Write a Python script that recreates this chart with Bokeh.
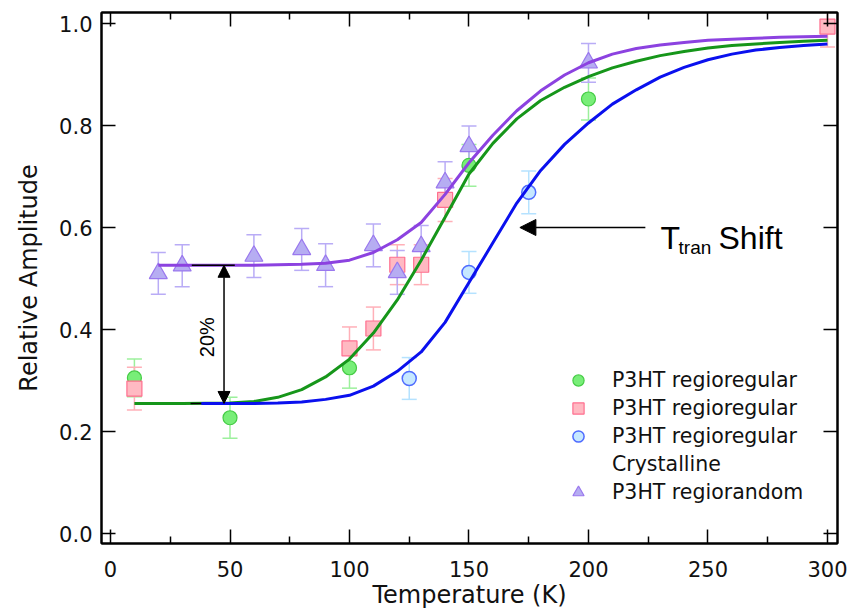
from math import pi
from bokeh.plotting import figure
from bokeh.models import (Range1d, LinearAxis, FixedTicker, NumeralTickFormatter, Whisker,
                          TeeHead, ColumnDataSource, Legend, LegendItem, Label, Arrow, NormalHead,
                          CustomLabelingPolicy)
from bokeh.embed import file_html
from bokeh.resources import INLINE

# ---------------- data ----------------
x_ticks = [0, 50, 100, 150, 200, 250, 300]
x_minor_ticks = [25, 75, 125, 175, 225, 275]
y_ticks = [0.0, 0.2, 0.4, 0.6, 0.8, 1.0]

# P3HT regioregular (green circles)
rr_T = [10, 50, 100, 150, 200]
rr_amp = [0.305, 0.227, 0.325, 0.722, 0.852]
rr_err = [0.037, 0.040, 0.040, 0.041, 0.041]

# P3HT regioregular (pink squares)
rr2_T = [10, 100, 110, 120, 130, 140, 300]
rr2_amp = [0.284, 0.363, 0.402, 0.527, 0.527, 0.654, 0.994]
rr2_err = [0.042, 0.042, 0.042, 0.039, 0.039, 0.042, 0.040]

# P3HT regioregular Crystalline (blue open circles)
rrc_T = [125, 150, 175]
rrc_amp = [0.304, 0.512, 0.669]
rrc_err = [0.041, 0.041, 0.042]

# P3HT regiorandom (purple triangles)
ra_T = [20, 30, 60, 80, 90, 110, 120, 130, 140, 150, 200]
ra_amp = [0.510, 0.525, 0.544, 0.557, 0.526, 0.565, 0.512, 0.563, 0.688, 0.759, 0.923]
ra_err = [0.041, 0.041, 0.042, 0.041, 0.042, 0.042, 0.043, 0.041, 0.041, 0.040, 0.038]

# fitted curves
fit_rr_T = [10, 30, 50, 60, 70, 80, 90, 100, 110, 120, 130, 140, 150, 160, 170, 180,
            190, 200, 210, 220, 230, 240, 250, 260, 270, 280, 290, 300]
fit_rr = [0.255, 0.255, 0.256, 0.259, 0.267, 0.282, 0.307, 0.342, 0.393, 0.458, 0.536,
          0.620, 0.705, 0.765, 0.813, 0.849, 0.875, 0.896, 0.913, 0.926, 0.937, 0.945,
          0.952, 0.957, 0.960, 0.963, 0.965, 0.967]

fit_ra_T = [20, 40, 60, 80, 90, 100, 110, 120, 130, 140, 150, 160, 170, 180, 190, 200,
            210, 220, 230, 240, 250, 260, 270, 280, 290, 300]
fit_ra = [0.526, 0.526, 0.526, 0.528, 0.530, 0.536, 0.551, 0.576, 0.610, 0.665, 0.727,
          0.781, 0.829, 0.868, 0.899, 0.923, 0.940, 0.951, 0.958, 0.963, 0.967, 0.969,
          0.971, 0.973, 0.974, 0.975]

fit_rrc_T = [38, 60, 70, 80, 90, 100, 110, 120, 130, 140, 150, 160, 170, 180, 190, 200,
             210, 220, 230, 240, 250, 260, 270, 280, 290, 300]
fit_rrc = [0.255, 0.255, 0.256, 0.258, 0.263, 0.271, 0.289, 0.318, 0.356, 0.414, 0.492,
           0.570, 0.648, 0.712, 0.763, 0.805, 0.842, 0.870, 0.895, 0.914, 0.929, 0.940,
           0.948, 0.953, 0.957, 0.960]

# annotation levels
plateau_ra = 0.526
plateau_rr = 0.255

# ---------------- figure ----------------
p = figure(width=849, height=615,
           x_range=Range1d(-3.77, 304.2), y_range=Range1d(-0.0196, 1.0216),
           x_axis_type=None, y_axis_type=None,
           output_backend="svg", toolbar_location=None,
           min_border_left=101, min_border_right=12, min_border_top=12, min_border_bottom=72)
p.outline_line_color = "black"
p.outline_line_width = 2
p.background_fill_color = "white"
p.border_fill_color = "white"

xt = FixedTicker(ticks=x_ticks, minor_ticks=x_minor_ticks)
yt = FixedTicker(ticks=y_ticks, minor_ticks=[])

TICK_FONT = "DejaVu Sans"
hide_all = CustomLabelingPolicy(code="""
for (const i of indices) { indices.unset(i) }
return indices
""")


def style_axis(ax, labels=True):
    ax.axis_line_color = "black"
    ax.axis_line_width = 2
    ax.major_tick_in = 14
    ax.major_tick_out = 0
    ax.minor_tick_in = 7
    ax.minor_tick_out = 0
    ax.major_tick_line_width = 1.5
    ax.minor_tick_line_width = 1.5
    ax.major_tick_line_color = "black"
    ax.minor_tick_line_color = "black"
    if labels:
        ax.major_label_text_font = TICK_FONT
        ax.major_label_text_font_size = "21px"
        ax.major_label_text_color = "#111111"
        ax.axis_label_text_font = TICK_FONT
        ax.axis_label_text_font_size = "24px"
        ax.axis_label_text_font_style = "normal"
        ax.axis_label_text_color = "#111111"
    else:
        ax.major_label_text_font_size = "1px"
        ax.major_label_standoff = 0
        ax.major_label_policy = hide_all
    return ax


xb = style_axis(LinearAxis(ticker=xt, axis_label="Temperature (K)"))
xb.major_label_standoff = 17
xb.axis_label_standoff = 1
yl = style_axis(LinearAxis(ticker=yt, axis_label="Relative Amplitude",
                           formatter=NumeralTickFormatter(format="0.0")))
yl.major_label_standoff = 9
yl.axis_label_standoff = 13
yl.minor_tick_line_color = None
xa = style_axis(LinearAxis(ticker=xt), labels=False)
yr = style_axis(LinearAxis(ticker=yt), labels=False)
yr.minor_tick_line_color = None

p.add_layout(xb, "below")
p.add_layout(yl, "left")
p.add_layout(xa, "above")
p.add_layout(yr, "right")

# ---------------- error bars ----------------
def add_err(T, amp, err, color):
    src = ColumnDataSource(dict(x=T,
                                upper=[a + e for a, e in zip(amp, err)],
                                lower=[a - e for a, e in zip(amp, err)]))
    w = Whisker(source=src, base="x", upper="upper", lower="lower",
                line_color=color, line_width=1.5,
                upper_head=TeeHead(size=15, line_color=color, line_width=1.5),
                lower_head=TeeHead(size=15, line_color=color, line_width=1.5))
    p.add_layout(w)


add_err(rr_T, rr_amp, rr_err, "#9cf09c")
add_err(rr2_T, rr2_amp, rr2_err, "#ffb0b8")
add_err(rrc_T, rrc_amp, rrc_err, "#b5e2ff")
add_err(ra_T, ra_amp, ra_err, "#b9acf6")

# ---------------- markers ----------------
r_rr = p.scatter(rr_T, rr_amp, marker="circle", size=14,
                 fill_color="#78ee78", line_color="#45cc45", line_width=1.2)
r_rr2 = p.scatter(rr2_T, rr2_amp, marker="square", size=15,
                  fill_color="#ffb9c2", line_color="#ff6f8f", line_width=1.2)
r_rrc = p.scatter(rrc_T, rrc_amp, marker="circle", size=14,
                  fill_color="#c6e8ff", line_color="#4f6cff", line_width=1.5)
r_ra = p.scatter(ra_T, ra_amp, marker="triangle", size=18,
                 fill_color="#b6adf2", line_color="#9a78ee", line_width=1.2)

# ---------------- fitted curves ----------------
p.line(fit_rr_T, fit_rr, line_color="#16961a", line_width=3)
p.line(fit_ra_T, fit_ra, line_color="#8c42e0", line_width=3)
# short black level markers for the 20% arrow
p.segment(x0=[34, 33.5], y0=[plateau_ra, plateau_rr], x1=[52, 52], y1=[plateau_ra, plateau_rr],
          line_color="black", line_width=1.5)
p.line(fit_rrc_T, fit_rrc, line_color="#0a10ee", line_width=3)

# ---------------- annotations ----------------
p.add_layout(Arrow(x_start=47.5, y_start=plateau_rr, x_end=47.5, y_end=plateau_ra,
                   line_color="black", line_width=1.5,
                   start=NormalHead(size=12, fill_color="black", line_color="black"),
                   end=NormalHead(size=12, fill_color="black", line_color="black")))
p.add_layout(Label(x=40.4, y=0.385, text="20%", angle=pi / 2,
                   text_align="center", text_baseline="middle",
                   text_font="Liberation Sans", text_font_size="20px", text_color="black"))

p.add_layout(Arrow(x_start=223.8, y_start=0.6, x_end=171.3, y_end=0.6,
                   line_color="black", line_width=1.5,
                   end=NormalHead(size=16, fill_color="black", line_color="black")))
p.add_layout(Label(x=230.1, y=0.58, text="T", text_baseline="alphabetic",
                   text_font="Liberation Sans", text_font_size="32px", text_color="black"))
p.add_layout(Label(x=237.7, y=0.561, text="tran", text_baseline="alphabetic",
                   text_font="Liberation Sans", text_font_size="19px", text_color="black"))
p.add_layout(Label(x=254.4, y=0.58, text="Shift", text_baseline="alphabetic",
                   text_font="Liberation Sans", text_font_size="32px", text_color="black"))

# ---------------- legend ----------------
dummy_T = []
dummy_amp = []
r_blank = p.scatter(dummy_T, dummy_amp, size=0, fill_alpha=0, line_alpha=0)

legend = Legend(items=[
    LegendItem(label="P3HT regioregular", renderers=[r_rr]),
    LegendItem(label="P3HT regioregular", renderers=[r_rr2]),
    LegendItem(label="P3HT regioregular", renderers=[r_rrc]),
    LegendItem(label="Crystalline", renderers=[r_blank]),
    LegendItem(label="P3HT regiorandom", renderers=[r_ra]),
], location=(459, 37))
legend.padding = 0
legend.margin = 0
legend.spacing = 0
legend.glyph_width = 36
legend.glyph_height = 28
legend.label_height = 28
legend.label_standoff = 16
legend.label_text_font = TICK_FONT
legend.label_text_font_size = "20.5px"
legend.label_text_color = "#111111"
legend.border_line_color = None
legend.background_fill_alpha = 0
p.add_layout(legend)

open("out.html", "w").write(file_html(p, INLINE))
